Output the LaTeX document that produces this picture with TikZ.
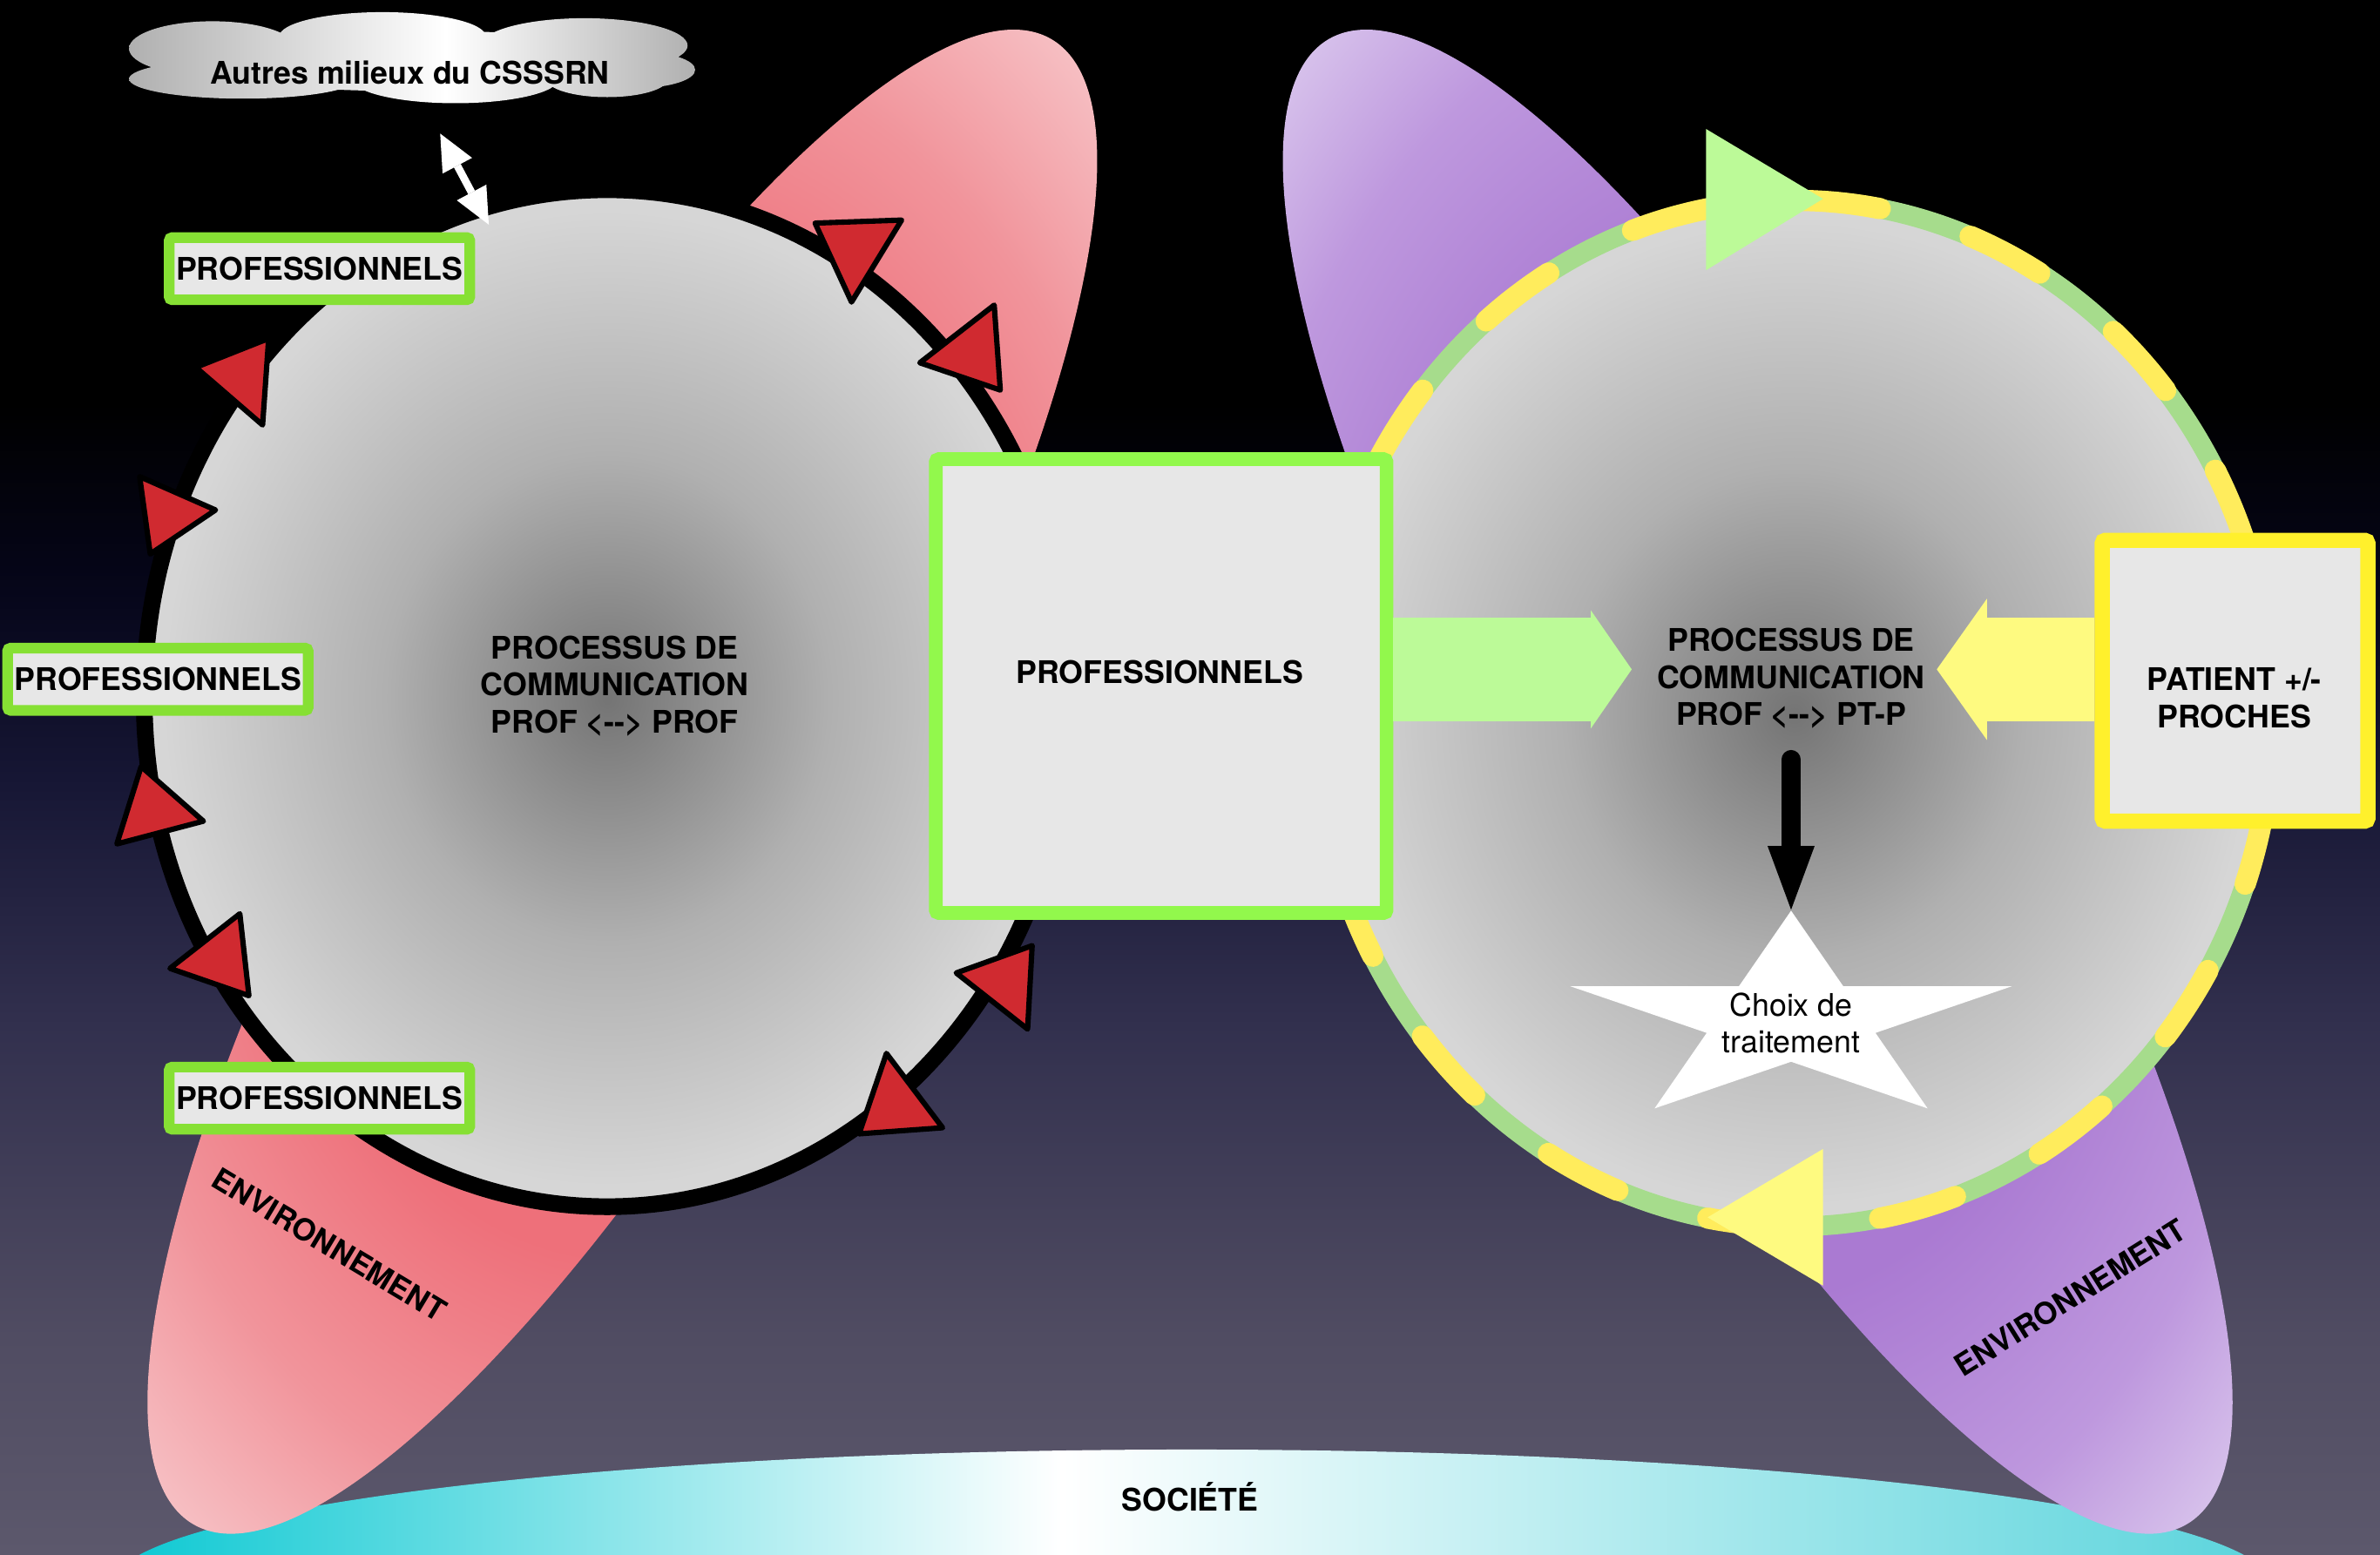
\documentclass[tikz,border=0pt]{standalone}
\usepackage{fontspec}
\setmainfont{TeX Gyre Heros}
\usetikzlibrary{shapes.geometric,arrows.meta}

\definecolor{bgBot}{RGB}{92,88,108}
\definecolor{bgLow}{RGB}{80,76,98}
\definecolor{bgMid}{RGB}{50,48,78}
\definecolor{bgHigh}{RGB}{22,22,52}
\definecolor{bgDeep}{RGB}{6,6,26}
\definecolor{discDark}{RGB}{116,116,116}
\definecolor{discMid}{RGB}{176,176,176}
\definecolor{discLight}{RGB}{214,214,214}
\definecolor{boxFill}{RGB}{231,231,231}
\definecolor{proGreen}{RGB}{134,224,52}
\definecolor{bigGreen}{RGB}{146,248,76}
\definecolor{ptYellow}{RGB}{255,240,44}
\definecolor{arrowGreen}{RGB}{188,250,152}
\definecolor{arrowYellow}{RGB}{254,250,128}
\definecolor{ringGreen}{RGB}{166,220,140}
\definecolor{ringYellow}{RGB}{255,236,92}
\definecolor{triRed}{RGB}{208,42,48}
\definecolor{envRedIn}{RGB}{238,112,122}
\definecolor{envRedMid}{RGB}{241,148,155}
\definecolor{envRedOut}{RGB}{246,190,194}
\definecolor{envPurpleIn}{RGB}{170,122,210}
\definecolor{envPurpleMid}{RGB}{190,152,222}
\definecolor{envPurpleOut}{RGB}{220,202,238}
\definecolor{socCyan}{RGB}{10,200,210}
\definecolor{socRight}{RGB}{90,212,220}
\definecolor{cloudGray}{RGB}{176,176,176}

\pgfdeclareverticalshading{bgfade}{100bp}{color(0bp)=(bgBot); color(25bp)=(bgBot); color(32bp)=(bgLow); color(42bp)=(bgMid); color(50bp)=(bgHigh); color(56bp)=(bgDeep); color(62bp)=(black); color(100bp)=(black)}
\pgfdeclareradialshading{discfade}{\pgfpoint{0bp}{0bp}}{color(0bp)=(discDark); color(12bp)=(discMid); color(24bp)=(discLight); color(50bp)=(discLight)}
\pgfdeclareradialshading{redfade}{\pgfpoint{0bp}{0bp}}{color(0bp)=(envRedIn); color(16bp)=(envRedIn); color(25bp)=(envRedMid); color(32bp)=(envRedOut); color(50bp)=(envRedOut)}
\pgfdeclareradialshading{purplefade}{\pgfpoint{0bp}{0bp}}{color(0bp)=(envPurpleIn); color(16bp)=(envPurpleIn); color(25bp)=(envPurpleMid); color(32bp)=(envPurpleOut); color(50bp)=(envPurpleOut)}
\pgfdeclarehorizontalshading{socfade}{100bp}{color(0bp)=(socCyan); color(25bp)=(socCyan); color(47bp)=(white); color(75bp)=(socRight); color(100bp)=(socRight)}
\pgfdeclarehorizontalshading{cloudfade}{100bp}{color(0bp)=(cloudGray); color(25bp)=(cloudGray); color(53bp)=(white); color(75bp)=(cloudGray); color(100bp)=(cloudGray)}

\tikzset{
    lbl/.style={font=\fontsize{20.5}{24.5}\selectfont\bfseries, align=center, inner sep=2pt},
    choixlbl/.style={font=\fontsize{20.5}{24.5}\selectfont, align=center, inner sep=2pt},
    envlbl/.style={font=\fontsize{20}{24}\selectfont\bfseries, inner sep=2pt},
    disc/.style={ellipse, shade, shading=discfade, inner sep=0pt},
    ring/.style={draw=ringGreen, line width=13pt,
        postaction={draw=ringYellow, line width=14pt, line cap=round, dash pattern=on 52pt off 62pt}},
    probox/.style={lbl, draw=proGreen, line width=7pt, fill=boxFill, rounded corners=2pt,
        minimum width=198pt, minimum height=41pt, inner sep=0pt},
    bigbox/.style={draw=bigGreen, line width=9pt, fill=boxFill, rounded corners=2pt,
        minimum width=297pt, minimum height=299pt},
    ptbox/.style={draw=ptYellow, line width=10pt, fill=boxFill, rounded corners=2pt,
        minimum width=175pt, minimum height=185pt},
    redtri/.style={fill=triRed, draw=black, line width=3.5pt, line join=round},
    greentri/.style={fill=arrowGreen},
    yellowtri/.style={fill=arrowYellow},
    socshape/.style={ellipse, shade, shading=socfade, minimum width=1424pt, minimum height=180pt},
    greenflow/.style={draw=arrowGreen, line width=68pt, -{Triangle[length=27pt, width=78pt, line width=0pt]}},
    yellowflow/.style={draw=arrowYellow, line width=68pt, -{Triangle[length=33pt, width=93pt, line width=0pt]}},
    downflow/.style={draw=black, line width=12.5pt, line cap=round, -{Triangle[length=42pt, width=31pt, line width=0pt]}},
    link/.style={draw=white, line width=5pt, {Triangle[length=24pt, width=22pt, line width=0pt]}-{Triangle[length=24pt, width=22pt, line width=0pt]}},
}

\begin{document}
\begin{tikzpicture}[x=1pt, y=-1pt]
        \useasboundingbox (0,0) rectangle (1568,1024);
        \shade[shading=bgfade] (0,0) rectangle (1568,1024);

        \node[socshape] (societe) at (785,1045) {};
        \node[lbl] (socLbl) at (784,986) {SOCIÉTÉ};

        \shade[shading=redfade, rotate around={60:(410,515)}] (410,515) ellipse [x radius=565pt, y radius=155pt];
        \shade[shading=purplefade, rotate around={-60:(1158,515)}] (1158,515) ellipse [x radius=565pt, y radius=155pt];
        \node[envlbl, rotate=-31] (envL) at (217,820) {ENVIRONNEMENT};
        \node[envlbl, rotate=32] (envR) at (1364,855) {ENVIRONNEMENT};

        \node[disc, draw=black, line width=11pt, minimum width=610pt, minimum height=670pt] (commL) at (400,460) {};
        \draw[redtri] (537,147) -- (594,145) -- (561,199) -- cycle;
        \draw[redtri] (606,239) -- (655,201) -- (659,257) -- cycle;
        \draw[redtri] (129,242) -- (177,223) -- (173,280) -- cycle;
        \draw[redtri] (92,314) -- (142,336) -- (99,365) -- cycle;
        \draw[redtri] (93,505) -- (134,541) -- (77,556) -- cycle;
        \draw[redtri] (158,602) -- (164,656) -- (112,638) -- cycle;
        \draw[redtri] (630,641) -- (680,623) -- (677,678) -- cycle;
        \draw[redtri] (584,694) -- (621,743) -- (566,747) -- cycle;
        \node[lbl] (procL) at (405,452) {PROCESSUS DE\\COMMUNICATION\\PROF <-\kern0pt-> PROF};

        \node[disc, ring, minimum width=630pt, minimum height=676pt] (commR) at (1182,470) {};
        \fill[greentri] (1124,85) -- (1124,178) -- (1201,131) -- cycle;
        \fill[yellowtri] (1201,757) -- (1201,847) -- (1125,802) -- cycle;
        \node[lbl] (procR) at (1180,447) {PROCESSUS DE\\COMMUNICATION\\PROF <-\kern0pt-> PT-P};

        \node[probox] (proTop) at (210.5,177) {PROFESSIONNELS};
        \node[probox] (proMid) at (104,447.5) {PROFESSIONNELS};
        \node[probox] (proBot) at (210.5,723.5) {PROFESSIONNELS};
        \node[bigbox] (proBig) at (765,452) {};
        \node[lbl] (proBigLbl) at (764,443) {PROFESSIONNELS};
        \node[ptbox] (patientBox) at (1472.5,448.5) {};
        \node[lbl] (patient) at (1472,460) {PATIENT +/-\\PROCHES};

        \coordinate (greenTip) at (1075,441);
        \coordinate (yellowTip) at (1276,441);
        \draw[greenflow] ([yshift=11pt]proBig.east) -- (greenTip);
        \draw[yellowflow] ([yshift=7.5pt]patientBox.west) -- (yellowTip);

        \begin{scope}[shift={(1180,672)}, xscale=2.125]
            \node[star, star points=5, star point ratio=2.618, fill=white, minimum size=144pt, inner sep=0pt, transform shape] (star) at (0,0) {};
        \end{scope}
        \node[choixlbl] (choix) at (1180,674) {Choix de\\traitement};
        \draw[downflow] ([yshift=-18pt]procR.south) -- (star.north);

        \shade[shading=cloudfade] (140,32) ellipse [x radius=55pt, y radius=18pt]
            (252,24) ellipse [x radius=68pt, y radius=16pt]
            (385,30) ellipse [x radius=68pt, y radius=18pt]
            (420,46) ellipse [x radius=38pt, y radius=12pt]
            (300,52) ellipse [x radius=68pt, y radius=16pt]
            (160,52) ellipse [x radius=75pt, y radius=13pt]
            (400,52) ellipse [x radius=40pt, y radius=12pt]
            (270,40) ellipse [x radius=160pt, y radius=20pt];
        \node[lbl] (milieux) at (270,48) {Autres milieux du CSSSRN};
        \coordinate (linkA) at (290,88);
        \coordinate (linkB) at (322,148);
        \draw[link] (linkA) -- (linkB);
    \end{tikzpicture}
\end{document}
